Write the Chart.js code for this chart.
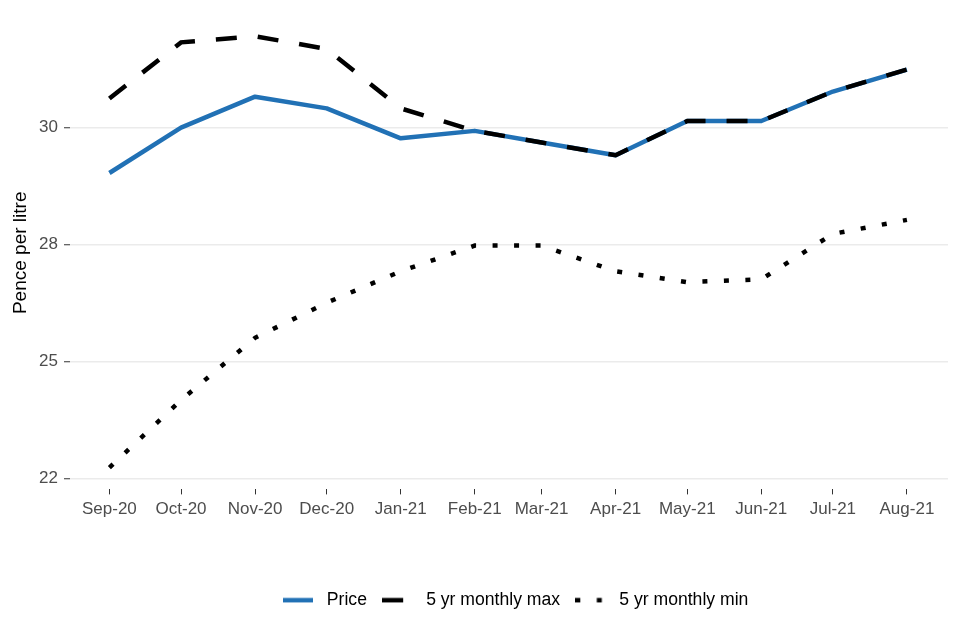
<!DOCTYPE html>
<html>
<head>
<meta charset="utf-8">
<script src="https://cdn.jsdelivr.net/npm/chart.js@4.4.1/dist/chart.umd.min.js"></script>
<style>
html, body { margin: 0; padding: 0; background: #fff; }
#wrap { width: 960px; height: 640px; }
</style>
</head>
<body>
<div id="wrap"><canvas id="chart"></canvas></div>
<script>
const months = ['Sep-20', 'Oct-20', 'Nov-20', 'Dec-20', 'Jan-21', 'Feb-21', 'Mar-21', 'Apr-21', 'May-21', 'Jun-21', 'Jul-21', 'Aug-21'];
const monthStarts = ['2020-09-01', '2020-10-01', '2020-11-01', '2020-12-01', '2021-01-01', '2021-02-01', '2021-03-01', '2021-04-01', '2021-05-01', '2021-06-01', '2021-07-01', '2021-08-01'];
const price = [29.03, 30.00, 30.66, 30.41, 29.77, 29.93, 29.68, 29.41, 30.14, 30.14, 30.77, 31.24];
const maxPrice = [30.62, 31.82, 31.95, 31.68, 30.41, 29.93, 29.68, 29.41, 30.14, 30.14, 30.77, 31.24];
const minPrice = [22.74, 24.18, 25.51, 26.26, 26.93, 27.48, 27.48, 26.93, 26.70, 26.76, 27.73, 28.03];
const yTickValues = [22.5, 25, 27.5, 30];
const yTickLabels = ['22', '25', '28', '30'];

// days since first month, so the x axis spaces months like a date axis
const dayOffsets = monthStarts.map(d => (Date.parse(d) - Date.parse(monthStarts[0])) / 864e5);
const toPoints = arr => arr.map((v, i) => ({x: dayOffsets[i], y: v}));

const font = '"Liberation Sans", Arial, sans-serif';

// little line swatch for the legend key
function keyImage(color, dash) {
  const c = document.createElement('canvas');
  c.width = 30; c.height = 6;
  const g = c.getContext('2d');
  g.strokeStyle = color;
  g.lineWidth = 4.5;
  g.setLineDash(dash);
  g.beginPath();
  g.moveTo(0, 3);
  g.lineTo(30, 3);
  g.stroke();
  return c;
}

// ggplot puts the legend a bit right of the canvas centre
const shiftLegend = {
  id: 'shiftLegend',
  afterLayout(chart) {
    chart.legend.left += 39;
    chart.legend.right += 39;
  }
};

const ctx = document.getElementById('chart').getContext('2d');
new Chart(ctx, {
  type: 'line',
  data: {
    datasets: [{
      label: 'Price',
      data: toPoints(price),
      borderColor: '#2171b5',
      backgroundColor: '#2171b5',
      borderWidth: 4.5,
      borderDash: [],
      pointRadius: 0,
      tension: 0,
      borderJoinStyle: 'round',
      order: 2
    }, {
      label: '5 yr monthly max',
      data: toPoints(maxPrice),
      borderColor: '#000',
      backgroundColor: '#000',
      borderWidth: 4.5,
      borderDash: [21, 21],
      pointRadius: 0,
      tension: 0,
      order: 1
    }, {
      label: '5 yr monthly min',
      data: toPoints(minPrice),
      borderColor: '#000',
      backgroundColor: '#000',
      borderWidth: 4.5,
      borderDash: [5, 16.5],
      pointRadius: 0,
      tension: 0,
      order: 1
    }]
  },
  options: {
    responsive: true,
    maintainAspectRatio: false,
    animation: false,
    layout: { padding: { top: 13, right: 12, bottom: 21, left: 0 } },
    plugins: {
      tooltip: { enabled: false },
      legend: {
        position: 'bottom',
        labels: {
          usePointStyle: true,
          pointStyleWidth: 40.4,
          padding: 10,
          color: '#000',
          font: { family: font, size: 17.6 },
          sort: (a, b) => a.datasetIndex - b.datasetIndex,
          generateLabels: chart => {
            const items = Chart.defaults.plugins.legend.labels.generateLabels(chart);
            items.forEach(it => {
              const ds = chart.data.datasets[it.datasetIndex];
              it.pointStyle = keyImage(ds.borderColor, ds.borderDash);
            });
            return items;
          }
        }
      }
    },
    scales: {
      x: {
        type: 'linear',
        min: -16.5,
        max: 351.2,
        afterFit: s => { s.height = 92; },
        afterBuildTicks: s => { s.ticks = dayOffsets.map(v => ({value: v})); },
        border: { display: false },
        grid: { drawOnChartArea: false, drawTicks: true, tickLength: 5, tickColor: '#333', tickWidth: 1 },
        ticks: {
          autoSkip: false,
          maxRotation: 0,
          padding: 5,
          color: '#4d4d4d',
          font: { family: font, size: 17 },
          callback: (v, i) => months[i]
        }
      },
      y: {
        min: 22.273,
        max: 32.379,
        afterFit: s => { s.width = 70; },
        afterBuildTicks: s => { s.ticks = yTickValues.map(v => ({value: v})); },
        border: { display: false },
        grid: { color: '#ebebeb', lineWidth: 1.5, tickLength: 6, tickColor: '#333', tickWidth: 1 },
        ticks: {
          padding: 6,
          color: '#4d4d4d',
          font: { family: font, size: 17 },
          callback: (v, i) => yTickLabels[i]
        },
        title: {
          display: true,
          text: 'Pence per litre',
          color: '#000',
          padding: { top: 9, bottom: 0 },
          font: { family: font, size: 19 }
        }
      }
    }
  },
  plugins: [shiftLegend]
});
</script>
</body>
</html>
